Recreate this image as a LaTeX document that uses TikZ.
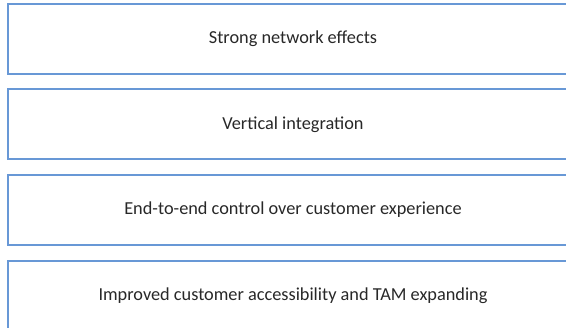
\documentclass[tikz,border=0pt]{standalone}
\usepackage{fontspec}
\setmainfont{Carlito}
\usepackage{tikz}
\definecolor{boxblue}{RGB}{104,152,214}
\definecolor{textgray}{RGB}{40,40,40}

\begin{document}
\begin{tikzpicture}[x=1pt, y=1pt,
	factor/.style={rectangle, draw=boxblue, line width=2pt, fill=white,
		minimum width=570pt, minimum height=70pt, inner sep=0pt,
		text=textgray, font=\fontsize{18.3}{21}\selectfont}]
	\clip (0,0) rectangle (566,328);
	\fill[white] (0,0) rectangle (566,328);
	\node (1) at (293,289) [factor] {Strong network effects};
	\node (2) at (293,203.5) [factor] {Vertical integration};
	\node (3) at (293,118) [factor] {End-to-end control over customer experience};
	\node (4) at (293,32) [factor] {Improved customer accessibility and TAM expanding};
\end{tikzpicture}
\end{document}
